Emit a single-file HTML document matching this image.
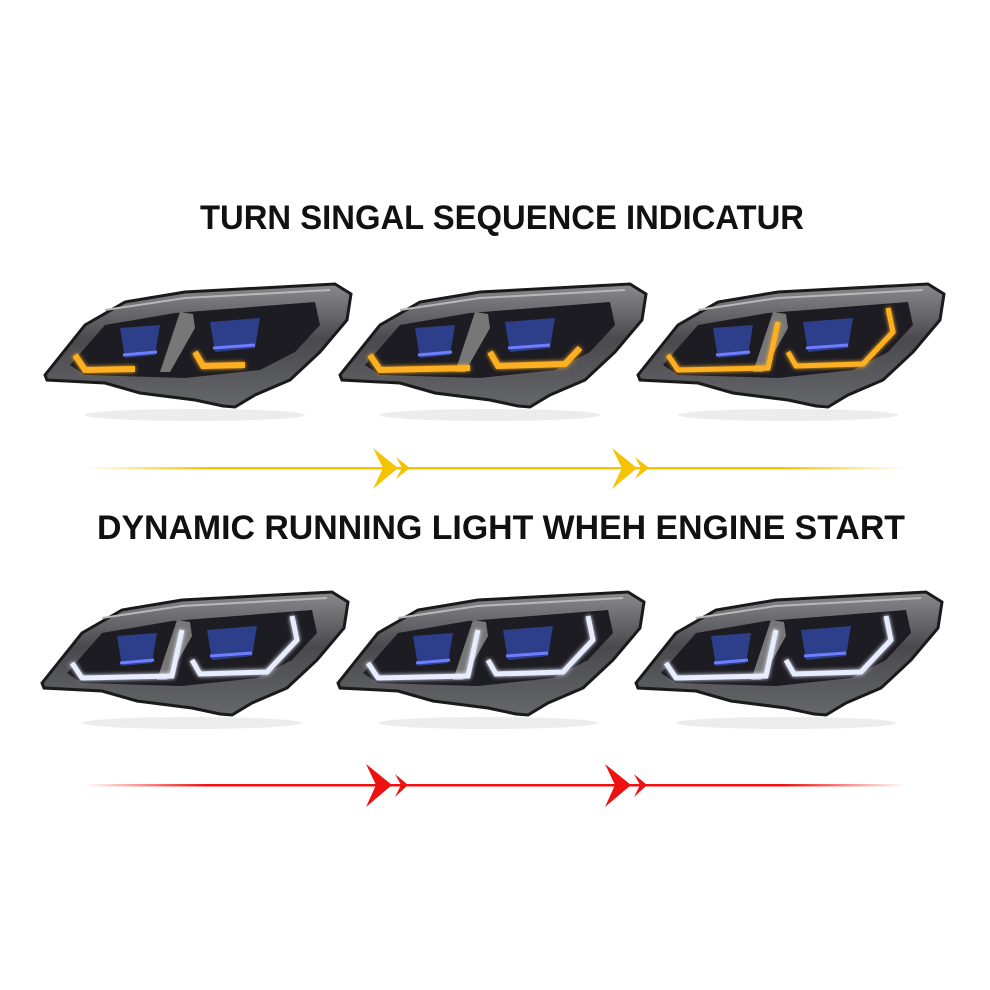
<!DOCTYPE html>
<html><head><meta charset="utf-8"><style>
html,body{margin:0;padding:0;background:#fff;}
svg{display:block}
</style></head><body>
<svg width="990" height="990" viewBox="0 0 990 990" xmlns="http://www.w3.org/2000/svg">
<defs>
<linearGradient id="yl" x1="0" x2="1"><stop offset="0" stop-color="#f5c400" stop-opacity="0"/><stop offset="0.15" stop-color="#f5c400"/><stop offset="0.85" stop-color="#f5c400"/><stop offset="1" stop-color="#f5c400" stop-opacity="0"/></linearGradient>
<linearGradient id="rd" x1="0" x2="1"><stop offset="0" stop-color="#ee1111" stop-opacity="0"/><stop offset="0.15" stop-color="#ee1111"/><stop offset="0.85" stop-color="#ee1111"/><stop offset="1" stop-color="#ee1111" stop-opacity="0"/></linearGradient>
<linearGradient id="body" x1="0" y1="0" x2="0" y2="1"><stop offset="0" stop-color="#8a8a8e"/><stop offset="0.45" stop-color="#4a4a4e"/><stop offset="1" stop-color="#66676b"/></linearGradient>
<filter id="gl" x="-20%" y="-50%" width="140%" height="200%"><feGaussianBlur stdDeviation="2" result="b"/><feMerge><feMergeNode in="b"/><feMergeNode in="SourceGraphic"/></feMerge></filter>
<g id="hl">
  <ellipse cx="150" cy="135" rx="110" ry="6" fill="#ececec"/>
  <path d="M0,95 L40,45 L80,22 L140,12 L290,4 L306,14 L302,40 L275,72 L245,100 L210,115 L190,127 L178,126 L150,120 L95,113 L60,103 L2,100 Z" fill="url(#body)" stroke="#1a1a1a" stroke-width="3"/>
  <path d="M25,85 L60,45 L130,33 L270,22 L275,45 L250,72 L215,90 L140,98 L40,95 Z" fill="#1d1c22"/>
  <path d="M60,30 L140,18 L285,10" fill="none" stroke="#b8b8bc" stroke-width="2"/>
  <path d="M135,32 L148,34 L150,48 L125,92 L115,92 Z" fill="#777"/>
  <path d="M75,48 L115,45 L110,75 L80,78 Z" fill="#2d3f8a"/>
  <path d="M165,42 L215,38 L210,68 L170,72 Z" fill="#2d3f8a"/>
  <path d="M78,75 L112,72" stroke="#6f7dff" stroke-width="3"/>
  <path d="M168,68 L210,65" stroke="#6f7dff" stroke-width="3"/>
</g>
<g id="drl" filter="url(#gl)">
  <path d="M30,75 L40,90 L130,88 L140,42" fill="none" stroke="currentColor" stroke-width="5"/>
  <path d="M150,72 L158,86 L225,84 L255,52 L250,28" fill="none" stroke="currentColor" stroke-width="5"/>
</g>
</defs>

<text x="502" y="229" text-anchor="middle" font-family="Liberation Sans, sans-serif" font-weight="bold" font-size="34" textLength="604" lengthAdjust="spacingAndGlyphs" fill="#111">TURN SINGAL SEQUENCE INDICATUR</text>
<text x="501" y="539" text-anchor="middle" font-family="Liberation Sans, sans-serif" font-weight="bold" font-size="34" textLength="808" lengthAdjust="spacingAndGlyphs" fill="#111">DYNAMIC RUNNING LIGHT WHEH ENGINE START</text>

<g transform="translate(45,280)"><use href="#hl"/><g filter="url(#gl)"><path d="M30,75 L40,90 L90,89" fill="none" stroke="#ffb020" stroke-width="6"/><path d="M150,72 L158,86 L200,85" fill="none" stroke="#ffb020" stroke-width="6"/></g></g>
<g transform="translate(340,280)"><use href="#hl"/><g filter="url(#gl)"><path d="M30,75 L40,90 L130,88" fill="none" stroke="#ffb020" stroke-width="6"/><path d="M150,72 L158,86 L225,84 L240,68" fill="none" stroke="#ffb020" stroke-width="6"/></g></g>
<g transform="translate(638,280)"><use href="#hl"/><use href="#drl" color="#ffb020"/></g>

<g transform="translate(42,588)"><use href="#hl"/><use href="#drl" color="#e8ecff"/></g>
<g transform="translate(338,588)"><use href="#hl"/><use href="#drl" color="#e8ecff"/></g>
<g transform="translate(636,588)"><use href="#hl"/><use href="#drl" color="#e8ecff"/></g>

<rect x="85" y="467" width="820" height="2.5" fill="url(#yl)"/>
<g fill="#f5c400">
<path d="M373,448 L398,468 L373,489 L383,468 Z"/><path d="M396,457 L410,468 L396,479 L402,468 Z"/>
<path d="M612,448 L637,468 L612,489 L622,468 Z"/><path d="M635,457 L649,468 L635,479 L641,468 Z"/>
</g>
<rect x="85" y="784" width="820" height="2.5" fill="url(#rd)"/>
<g fill="#ee1111">
<path d="M366,764 L392,785 L366,807 L376,785 Z"/><path d="M395,774 L408,785 L395,797 L401,785 Z"/>
<path d="M605,764 L631,785 L605,807 L615,785 Z"/><path d="M634,774 L647,785 L634,797 L640,785 Z"/>
</g>
</svg>
</body></html>
